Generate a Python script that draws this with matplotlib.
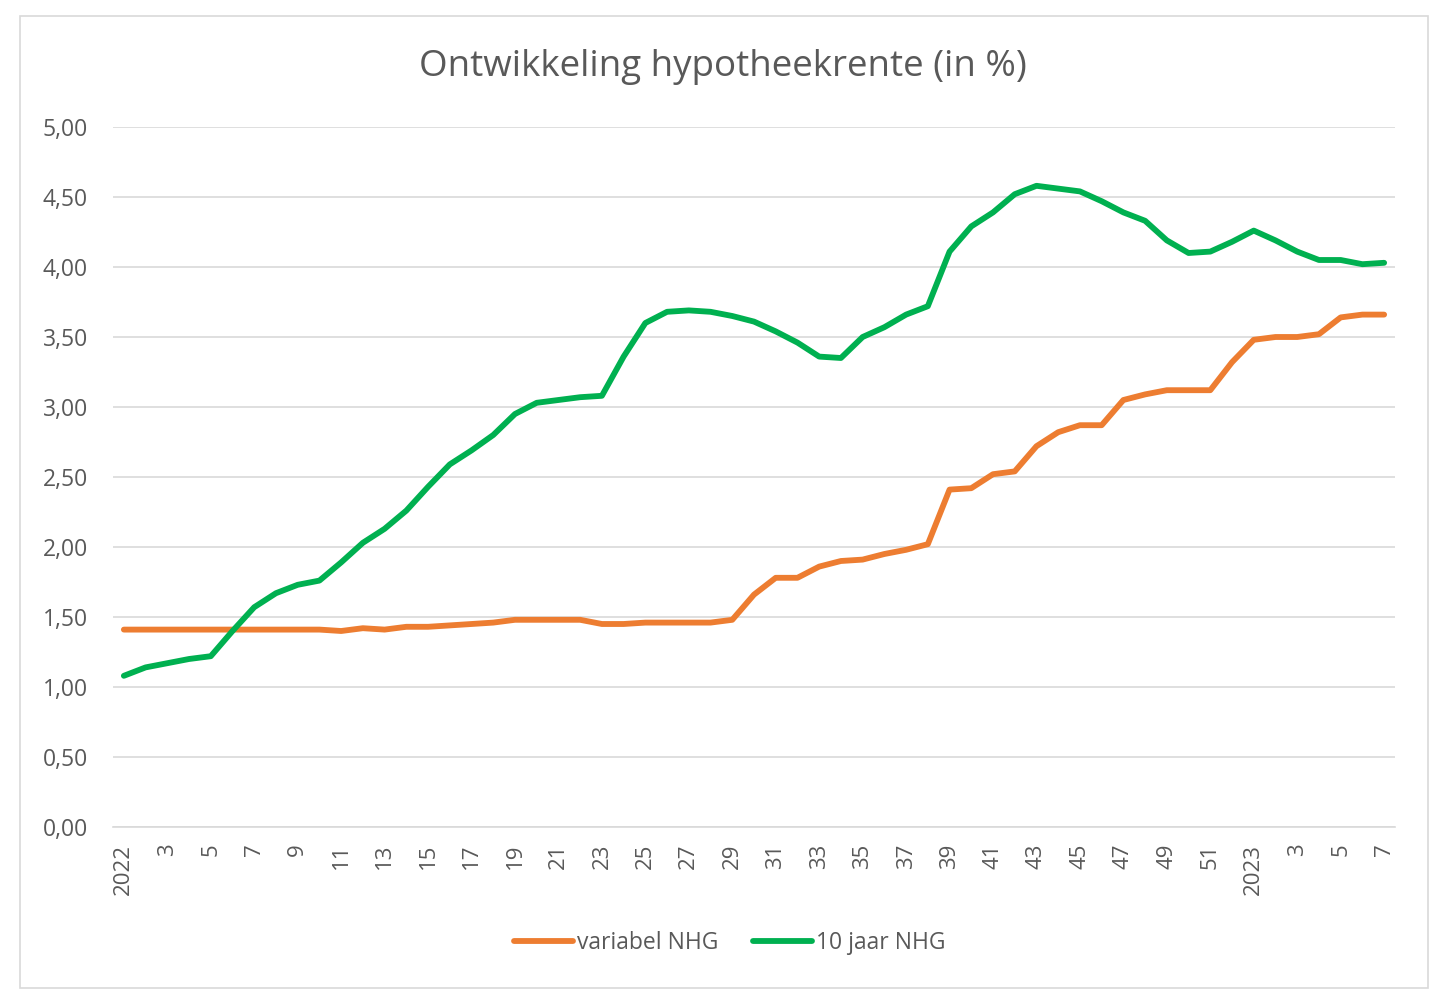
import numpy as np
import matplotlib.pyplot as plt
from matplotlib.patches import FancyBboxPatch

plt.rcParams['font.family'] = ['Open Sans', 'DejaVu Sans']

# weeks: 2022 week 1..52, then 2023 week 1..7
week_labels = [str(w) for w in range(1, 53)] + [str(w) for w in range(1, 8)]
week_labels[0] = '2022'
week_labels[52] = '2023'

variabel_nhg = [1.41, 1.41, 1.41, 1.41, 1.41, 1.41, 1.41, 1.41, 1.41, 1.41,
                1.40, 1.42, 1.41, 1.43, 1.43, 1.44, 1.45, 1.46, 1.48, 1.48,
                1.48, 1.48, 1.45, 1.45, 1.46, 1.46, 1.46, 1.46, 1.48, 1.66,
                1.78, 1.78, 1.86, 1.90, 1.91, 1.95, 1.98, 2.02, 2.41, 2.42,
                2.52, 2.54, 2.72, 2.82, 2.87, 2.87, 3.05, 3.09, 3.12, 3.12,
                3.12, 3.32, 3.48, 3.50, 3.50, 3.52, 3.64, 3.66, 3.66]

tien_jaar_nhg = [1.08, 1.14, 1.17, 1.20, 1.22, 1.40, 1.57, 1.67, 1.73, 1.76,
                 1.89, 2.03, 2.13, 2.26, 2.43, 2.59, 2.69, 2.80, 2.95, 3.03,
                 3.05, 3.07, 3.08, 3.36, 3.60, 3.68, 3.69, 3.68, 3.65, 3.61,
                 3.54, 3.46, 3.36, 3.35, 3.50, 3.57, 3.66, 3.72, 4.11, 4.29,
                 4.39, 4.52, 4.58, 4.56, 4.54, 4.47, 4.39, 4.33, 4.19, 4.10,
                 4.11, 4.18, 4.26, 4.19, 4.11, 4.05, 4.05, 4.02, 4.03]

text_col = '#595959'
grid_col = '#D9D9D9'

fig = plt.figure(figsize=(14.4, 10.08), dpi=100)
fig.patches.append(FancyBboxPatch((20 / 1440, 20 / 1008), 1408 / 1440, 972 / 1008,
                                  boxstyle='square,pad=0', transform=fig.transFigure,
                                  fill=False, edgecolor='#D9D9D9', linewidth=1.2))

ax = fig.add_axes([113 / 1440, 1 - 827 / 1008, 1282 / 1440, 700 / 1008])
x = np.arange(len(week_labels))
ax.plot(x, variabel_nhg, color='#ED7D31', linewidth=4.2, label='variabel NHG',
        solid_capstyle='round', solid_joinstyle='round')
ax.plot(x, tien_jaar_nhg, color='#00B050', linewidth=4.2, label='10 jaar NHG',
        solid_capstyle='round', solid_joinstyle='round')

ax.set_xlim(-0.5, len(week_labels) - 0.5)
ax.set_ylim(0, 5)
yt = np.arange(0, 5.01, 0.5)
ax.set_yticks(yt)
ax.set_yticklabels([f'{v:.2f}'.replace('.', ',') for v in yt], fontsize=16.5, color=text_col)
ax.set_xticks(x[::2])
ax.set_xticklabels(week_labels[::2], rotation=90, fontsize=16, color=text_col)
ax.tick_params(length=0)
ax.tick_params(axis='x', pad=12)
ax.tick_params(axis='y', pad=18)
ax.grid(axis='y', color=grid_col, linewidth=1.2)
ax.set_axisbelow(True)
for s in ['top', 'left', 'right']:
    ax.spines[s].set_visible(False)
ax.spines['bottom'].set_color(grid_col)
ax.spines['bottom'].set_linewidth(1.2)

fig.text(0.502, 1 - 67 / 1008, 'Ontwikkeling hypotheekrente (in %)', ha='center', va='center',
         fontsize=26.5, color=text_col)

fig.legend(loc='center', bbox_to_anchor=(0.5066, 1 - 943 / 1008), ncol=2, frameon=False,
           fontsize=16.5, labelcolor=text_col, handlelength=2.6, handletextpad=0.15,
           columnspacing=1.5)

fig.savefig('out.png', dpi=100)
